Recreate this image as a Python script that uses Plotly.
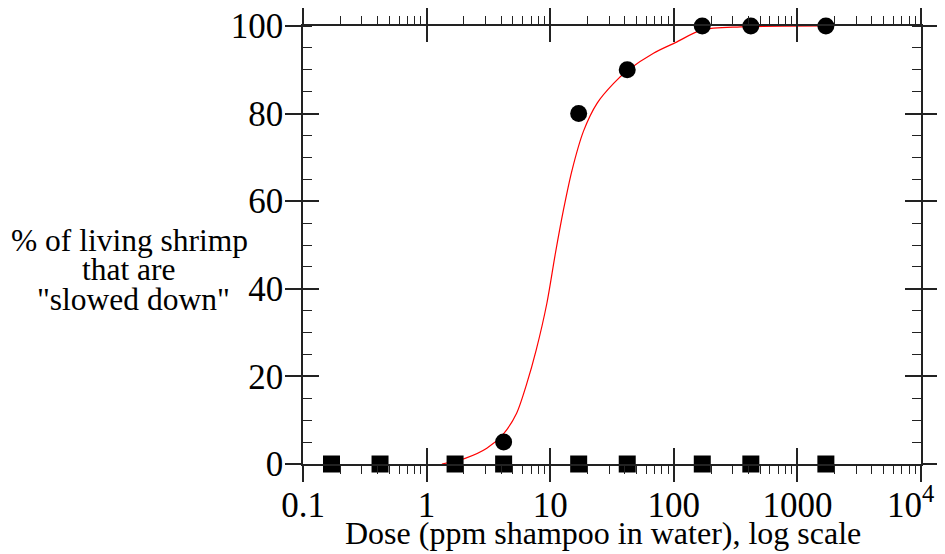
import plotly.graph_objects as go

# ---- data ----
dose_circles = [4.2, 17, 42, 170, 420, 1700]
pct_circles = [5, 80, 90, 100, 100, 100]

dose_squares = [0.17, 0.42, 1.7, 4.2, 17, 42, 170, 420, 1700]
pct_squares = [0, 0, 0, 0, 0, 0, 0, 0, 0]

fit_dose = [1.33, 2.05, 3.07, 4.22, 5.35, 6.47, 7.7, 9.4, 11.0, 12.8, 15.0,
            18.6, 24, 32.6, 43, 68.5, 103, 169, 347, 1700]
fit_pct = [0, 1.3, 3.6, 7, 11.6, 18.4, 26, 36.7, 48, 58, 67,
           76, 82.4, 86.9, 90, 93.8, 96.2, 99.1, 99.8, 100]

x_tickvals = [0.1, 1, 10, 100, 1000, 10000]
x_ticktext = ["0.1", "1", "10", "100", "1000", ""]
last_x_label = "10<sup>4</sup>"   # drawn separately so it is not clipped at the edge
y_tickvals = [0, 20, 40, 60, 80, 100]

x_title = "Dose (ppm shampoo in water), log scale"
y_title_lines = ["% of living shrimp", "that are", "\"slowed down\""]

FONT = "Liberation Serif, Times New Roman, serif"
AX = "#222222"

# the page body adds an 8px margin; size the figure so the page is 945x554
OFF = 8
W, H = 945 - OFF, 554 - OFF
# plot area (screen px: left 303, right 921, top 26, bottom 464)
L, T = 303 - OFF, 26 - OFF
R = W - (921 - OFF)
B = H - (464 - OFF)
PW, PH = W - L - R, H - T - B


def sx(px):  # screen x -> paper
    return (px - OFF - L) / PW


def sy(py):  # screen y -> paper
    return (H - B - (py - OFF)) / PH


fig = go.Figure()

fig.add_trace(go.Scatter(
    x=fit_dose, y=fit_pct, mode="lines",
    line=dict(color="#ff0000", width=1.2, shape="spline", smoothing=0.8),
    showlegend=False, hoverinfo="skip"))

fig.add_trace(go.Scatter(
    x=dose_squares, y=pct_squares, mode="markers",
    marker=dict(symbol="square", size=17, color="black"),
    showlegend=False, cliponaxis=False))

fig.add_trace(go.Scatter(
    x=dose_circles, y=pct_circles, mode="markers",
    marker=dict(symbol="circle", size=17, color="black"),
    showlegend=False, cliponaxis=False))

# invisible trace on overlay axes so they render
fig.add_trace(go.Scatter(x=[1], y=[50], xaxis="x2", yaxis="y2",
                         mode="markers", marker=dict(opacity=0),
                         showlegend=False, hoverinfo="skip"))

xr = [-1, 4]
yr = [0, 100]

annotations = [dict(
    text=x_title, xref="paper", yref="paper",
    x=sx(603), y=sy(533),
    xanchor="center", yanchor="middle", showarrow=False,
    font=dict(family=FONT, size=32, color="black"))]
y_line_cx = [129, 129.5, 133]
y_line_cy = [240, 269.5, 299]
for i, line in enumerate(y_title_lines):
    annotations.append(dict(
        text=line, xref="paper", yref="paper",
        x=sx(y_line_cx[i]), y=sy(y_line_cy[i]),
        xanchor="center", yanchor="middle", showarrow=False,
        font=dict(family=FONT, size=31.5, color="black")))
annotations.append(dict(
    text=last_x_label, xref="paper", yref="paper",
    x=sx(936), y=sy(464), xanchor="right", yanchor="top", yshift=-14,
    showarrow=False, font=dict(family=FONT, size=35, color="black")))

fig.update_layout(
    width=W, height=H,
    paper_bgcolor="white", plot_bgcolor="white",
    margin=dict(l=L, r=R, t=T, b=B, autoexpand=False),
    font=dict(family=FONT, color="black", size=32),
    xaxis=dict(
        type="log", range=xr, showgrid=False, zeroline=False, automargin=False,
        showline=True, linecolor=AX, linewidth=1.5, mirror="ticks",
        tickmode="array", tickvals=x_tickvals, ticktext=x_ticktext,
        ticks="outside", ticklen=16, tickwidth=1.5, tickcolor=AX,
        tickfont=dict(family=FONT, size=35), ticklabelstandoff=-7,
        ticklabeloverflow="allow",
        minor=dict(dtick="D1", ticks="outside", ticklen=8, tickwidth=1, tickcolor=AX,
                   showgrid=False),
    ),
    yaxis=dict(
        range=yr, showgrid=False, zeroline=False, automargin=False,
        showline=True, linecolor=AX, linewidth=1.5, mirror="ticks",
        tickmode="array", tickvals=y_tickvals,
        ticks="outside", ticklen=16, tickwidth=1.5, tickcolor=AX,
        tickfont=dict(family=FONT, size=35), ticklabelstandoff=-5,
        ticklabeloverflow="allow",
        minor=dict(dtick=5, ticks="inside", ticklen=9, tickwidth=1, tickcolor=AX,
                   showgrid=False),
    ),
    xaxis2=dict(
        type="log", range=xr, overlaying="x", showgrid=False, zeroline=False,
        showline=False, mirror="ticks", showticklabels=False, automargin=False,
        tickmode="array", tickvals=x_tickvals,
        ticks="inside", ticklen=16, tickwidth=1.5, tickcolor=AX,
    ),
    yaxis2=dict(
        range=yr, overlaying="y", showgrid=False, zeroline=False,
        showline=False, mirror="ticks", showticklabels=False, automargin=False,
        tickmode="array", tickvals=y_tickvals,
        ticks="inside", ticklen=16, tickwidth=1.5, tickcolor=AX,
    ),
    annotations=annotations,
)

fig.write_html("out.html")
